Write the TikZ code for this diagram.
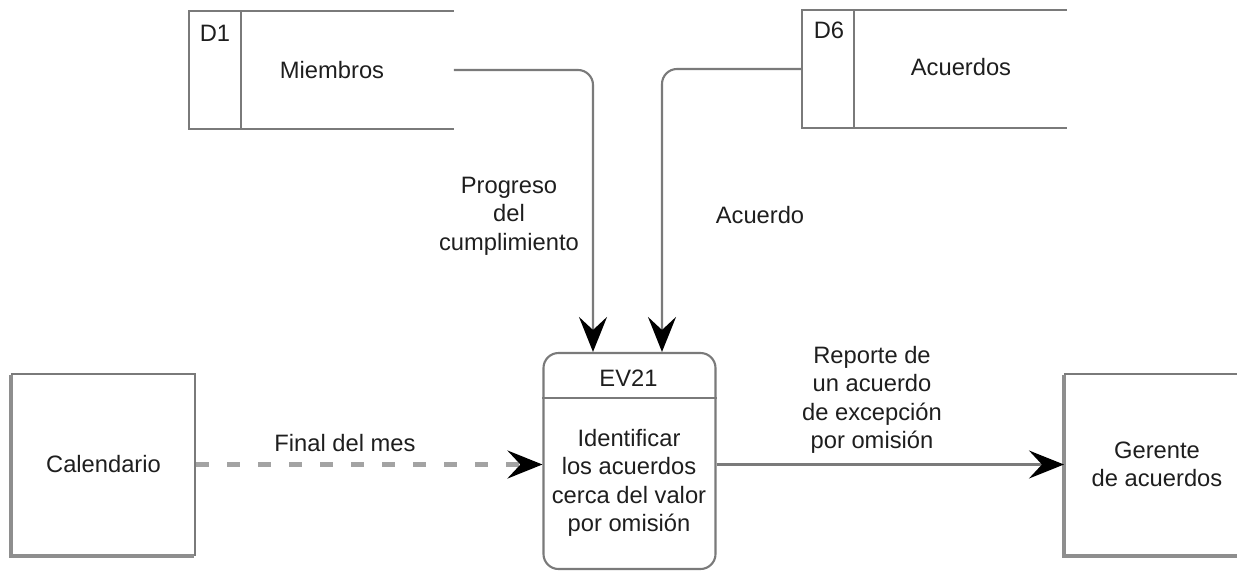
\documentclass[tikz,border=0pt]{standalone}
\usepackage{fontspec}
\setmainfont{Liberation Sans}
\usetikzlibrary{arrows.meta}
\definecolor{linegray}{HTML}{7A7A7A}
\definecolor{dashgray}{HTML}{A3A3A3}
\definecolor{inkblack}{HTML}{1E1E1E}
\begin{document}
\begin{tikzpicture}[
  font=\fontsize{13.5}{16.2}\selectfont, text=inkblack,
  ent/.style={draw=linegray, line width=1.2pt, minimum width=3.66cm, minimum height=3.62cm, align=center},
  proc/.style={draw=linegray, line width=1.2pt, rounded corners=0.3cm, minimum width=3.44cm, minimum height=4.32cm},
  store/.style={minimum width=5.28cm, minimum height=2.33cm},
  edge/.style={linegray, line width=1.2pt},
  shadeedge/.style={linegray!85, line width=2.4pt},
  flow/.style={draw=linegray, line width=1.2pt, rounded corners=0.3cm, -{Stealth[length=0.7cm, width=0.56cm, inset=0.26cm, color=black]}},
  lbl/.style={align=center}
]
  \useasboundingbox (0,0) rectangle (24.74,-11.48);

  % data stores
  \node[store] (d1) at (6.43,-1.4) {};
  \draw[edge] (d1.north east) -- (d1.north west) -- (d1.south west) -- (d1.south east);
  \draw[edge] ([xshift=1.04cm]d1.north west) -- ([xshift=1.04cm]d1.south west);
  \node (d1id) at (4.3,-0.66) {D1};
  \node (miembros) at (6.64,-1.4) {Miembros};

  \node[store] (d6) at (18.69,-1.38) {};
  \draw[edge] (d6.north east) -- (d6.north west) -- (d6.south west) -- (d6.south east);
  \draw[edge] ([xshift=1.04cm]d6.north west) -- ([xshift=1.04cm]d6.south west);
  \node (d6id) at (16.58,-0.6) {D6};
  \node (acuerdos) at (19.22,-1.34) {Acuerdos};

  % process
  \node[proc] (ev) at (12.59,-9.22) {};
  \coordinate (evsplit) at (12.59,-7.96);
  \draw[edge] (ev.west |- evsplit) -- (ev.east |- evsplit);
  \node (evid) at (12.57,-7.56) {EV21};
  \node[lbl] (evtext) at (12.58,-9.66) {Identificar\\los acuerdos\\cerca del valor\\por omisión};

  % external entities
  \node[ent] (cal) at (2.07,-9.29) {Calendario};
  \draw[shadeedge] ([yshift=-0.04cm]cal.north west) -- (cal.south west) -- ([xshift=-0.04cm]cal.south east);
  \node[ent, minimum width=3.68cm] (ger) at (23.14,-9.29) {Gerente\\de acuerdos};
  \draw[shadeedge] ([yshift=-0.04cm]ger.north west) -- (ger.south west) -- (ger.south east);

  % flows
  \draw[flow] (d1.east) -| ([xshift=-0.73cm]ev.north);
  \draw[flow] (d6.west) -| ([xshift=0.65cm]ev.north);
  \draw[flow, draw=dashgray, line width=2.4pt, dash pattern=on 0.26cm off 0.36cm] (cal.east) -- (cal.east -| ev.west);
  \draw[flow] (ev.east |- ger.west) -- (ger.west);

  \node[lbl] (progreso) at (10.18,-4.32) {Progreso\\del\\cumplimiento};
  \node (acuerdo) at (15.2,-4.3) {Acuerdo};
  \node (finalmes) at (6.9,-8.86) {Final del mes};
  \node[lbl] (reporte) at (17.44,-8.0) {Reporte de\\un acuerdo\\de excepción\\por omisión};
\end{tikzpicture}
\end{document}
